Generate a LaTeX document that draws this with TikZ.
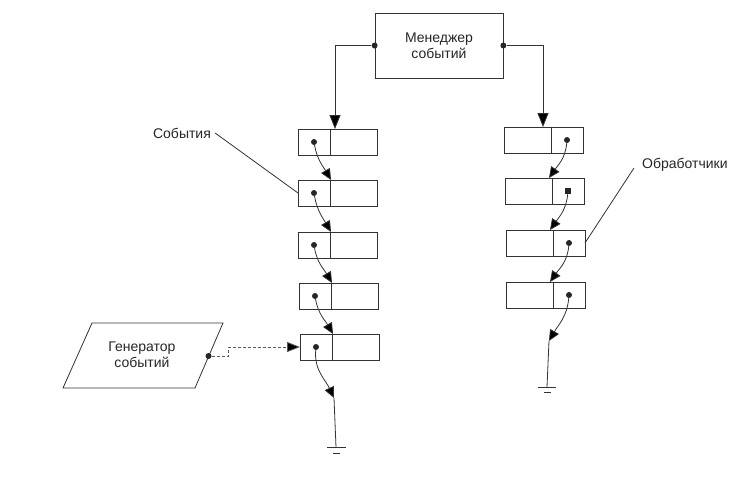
\documentclass[tikz,border=0pt]{standalone}
\usepackage{fontspec}
\setmainfont{Liberation Sans}
\usetikzlibrary{arrows.meta,calc}
\begin{document}
\begin{tikzpicture}[x=1pt,y=-1pt,
  ink/.style={draw=black!80, line width=0.8pt},
  cellA/.style={ink, minimum width=32pt, minimum height=26pt, inner sep=0pt, outer sep=0pt, anchor=north west},
  cellB/.style={ink, minimum width=47pt, minimum height=26pt, inner sep=0pt, outer sep=0pt, anchor=north west},
  dot/.style={circle, fill=black!85, inner sep=0pt, minimum size=6pt},
  sqdot/.style={rectangle, fill=black!85, inner sep=0pt, minimum size=5.5pt},
  arr/.style={ink, -{Triangle[length=11pt,width=10pt,fill=black]}},
  bigarr/.style={ink, -{Triangle[length=14pt,width=11pt,fill=black]}},
  dline/.style={draw=black!65, line width=0.8pt, dash pattern=on 3pt off 2pt, -{Triangle[length=13pt,width=10pt,fill=black]}},
  lbl/.style={font=\fontsize{14}{16}\selectfont, text=black!85, align=center, inner sep=0pt}
]
\useasboundingbox (0,0) rectangle (748,482);
\fill[white] (0,0) rectangle (748,482);

% manager
\node[ink, lbl, minimum width=128pt, minimum height=65pt] (mgr) at (439,45.5) {Менеджер\\событий};
\node[dot] (mdL) at (mgr.west) {};
\node[dot] (mdR) at (mgr.east) {};

% left column (events)
\node[cellA] (L1a) at (298,129) {};
\node[cellB] (L1b) at (L1a.north east) {};
\node[cellA] (L2a) at (298,180) {};
\node[cellB] (L2b) at (L2a.north east) {};
\node[cellA] (L3a) at (298,232) {};
\node[cellB] (L3b) at (L3a.north east) {};
\node[cellA] (L4a) at (299,283) {};
\node[cellB] (L4b) at (L4a.north east) {};
\node[cellA] (L5a) at (300,334) {};
\node[cellB] (L5b) at (L5a.north east) {};
\foreach \i in {1,...,5} {\node[dot] (dL\i) at (L\i a.center) {};}

% right column (handlers)
\node[cellB] (R1a) at (504,127) {};
\node[cellA] (R1b) at (R1a.north east) {};
\node[cellB] (R2a) at (505,178) {};
\node[cellA] (R2b) at (R2a.north east) {};
\node[cellB] (R3a) at (506,230) {};
\node[cellA] (R3b) at (R3a.north east) {};
\node[cellB] (R4a) at (506,282) {};
\node[cellA] (R4b) at (R4a.north east) {};
\node[dot] (dR1) at (R1b.center) {};
\node[sqdot] (dR2) at (R2b.center) {};
\node[dot] (dR3) at (R3b.center) {};
\node[dot] (dR4) at (R4b.center) {};

% manager connectors
\draw[bigarr] (mdL) -| ([xshift=5pt]L1b.north west);
\draw[bigarr] (mdR) -| ([xshift=-8pt]R1a.north east);

% event chain
\draw[arr] (dL1) to[out=-80,in=120] ([xshift=1pt]L2a.north east);
\draw[arr] (dL2) to[out=-80,in=120] ([xshift=1pt]L3a.north east);
\draw[arr] (dL3) to[out=-80,in=120] ([xshift=1pt]L4a.north east);
\draw[arr] (dL4) to[out=-80,in=120] ([xshift=1pt]L5a.north east);
\coordinate (gL) at (334,398);
\coordinate (gLb) at (336,447);
\draw[arr] (dL5) to[out=-95,in=115] (gL);
\draw[ink] (gL) -- (gLb);
\draw[ink] ($(gLb)+(-9,0)$) -- ($(gLb)+(10,0)$);
\draw[ink] ($(gLb)+(-3,6)$) -- ($(gLb)+(4,6)$);

% handler chain
\draw[arr] (dR1) to[out=-95,in=55] ([xshift=-3pt]R2a.north east);
\draw[arr] (dR2) to[out=-95,in=55] ([xshift=-3pt]R3a.north east);
\draw[arr] (dR3) to[out=-95,in=55] ([xshift=-3pt]R4a.north east);
\coordinate (gR) at (549,341);
\coordinate (gRb) at (547,387);
\draw[arr] (dR4) to[out=-95,in=60] (gR);
\draw[ink] (gR) -- (gRb);
\draw[ink] ($(gRb)+(-9,0)$) -- ($(gRb)+(9,0)$);
\draw[ink] ($(gRb)+(-3,5)$) -- ($(gRb)+(4,5)$);

% generator
\draw[ink] (92,323) -- (223,323) -- (195,388) -- (63,388) -- cycle;
\node[lbl] (gen) at (142,355) {Генератор\\событий};
\node[dot] (gdot) at (208.5,356) {};
\draw[dline] (gdot) -- ++(20,0) |- (L5a.west);

% labels
\node[lbl] (sob) at (182,133) {События};
\draw[ink] (sob.east) ++(4,0) -- (L2a.west);
\node[lbl, anchor=west] (obr) at (642,165) {Обработчики};
\draw[ink] (634,168) -- (R3b.east);
\end{tikzpicture}
\end{document}
